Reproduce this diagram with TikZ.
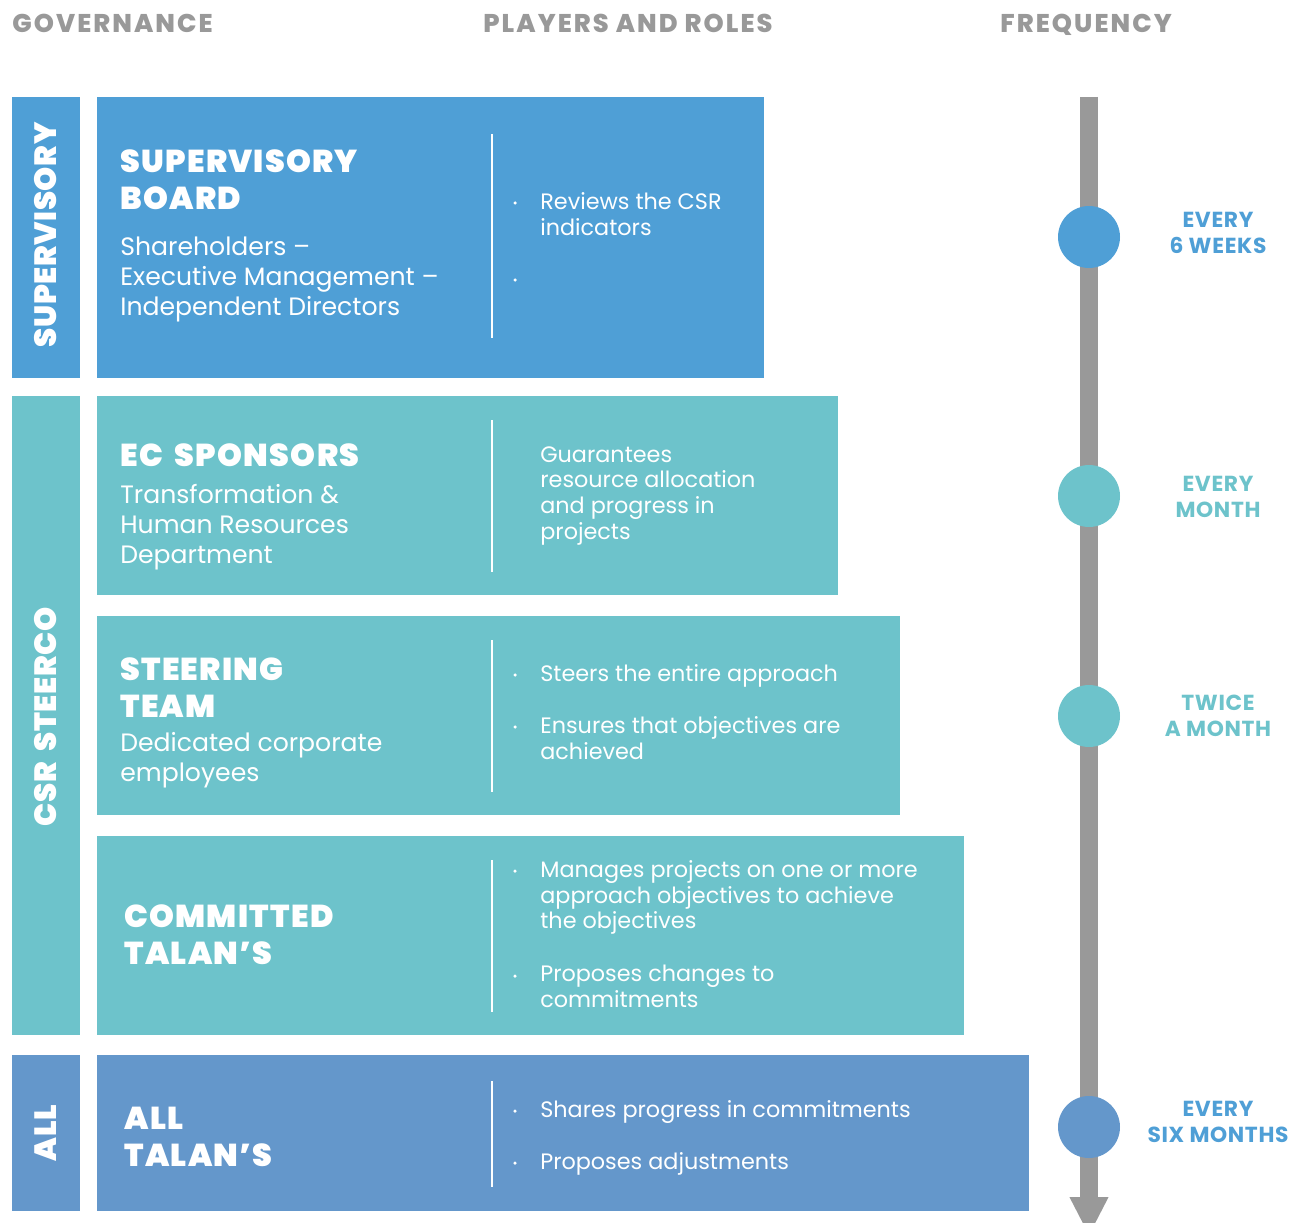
\documentclass[tikz,border=0pt]{standalone}
\usepackage{fontspec}
\setmainfont{Poppins}
\newfontfamily\heavyfont{Poppins ExtraBold}[LetterSpace=4]
\newfontfamily\blackfont{Poppins Black}[LetterSpace=4,WordSpace=1.8]
\newfontfamily\freqfont{Poppins}[LetterSpace=3]
\usepackage{xcolor}
\usepackage{tikz}
\usetikzlibrary{arrows.meta}
\definecolor{supblue}{RGB}{79,159,214}
\definecolor{steerteal}{RGB}{109,195,203}
\definecolor{allblue}{RGB}{100,151,203}
\definecolor{axisgray}{RGB}{153,153,153}

\begin{document}
\begin{tikzpicture}[x=0.02cm,y=-0.02cm]
    \tikzstyle{band}=[inner sep=0,anchor=north west,minimum width=1.36cm]
    \tikzstyle{panel}=[inner sep=0,anchor=north west,minimum height=3.98cm]
    \tikzstyle{header}=[inner sep=0,anchor=base west,text=axisgray,font=\fontsize{14.6}{17}\heavyfont\addfontfeature{LetterSpace=8}]
    \tikzstyle{bandlabel}=[inner sep=0,rotate=90,text=white,font=\fontsize{17.5}{20}\blackfont\addfontfeature{LetterSpace=2}]
    \tikzstyle{title}=[inner sep=0,anchor=north west,align=left,text=white,font=\fontsize{18}{21}\blackfont]
    \tikzstyle{members}=[inner sep=0,anchor=north west,align=left,text=white,font=\fontsize{14.3}{17}\selectfont]
    \tikzstyle{roles}=[inner sep=0,anchor=north west,align=left,text=white,font=\fontsize{12.7}{14.7}\selectfont]
    \tikzstyle{divider}=[white,line width=0.8pt]
    \tikzstyle{bullet}=[circle,fill=white,inner sep=0,minimum size=0.07cm]
    \tikzstyle{dot}=[circle,inner sep=0,minimum size=1.24cm]
    \tikzstyle{freq}=[align=center,inner sep=0,font=\fontsize{12.4}{14.5}\freqfont\bfseries]
    \useasboundingbox (0,0) rectangle (1308,1223);
    % Column headers
    \node[header] (govhead) at (12,33) {GOVERNANCE};
    \node[header] (playhead) at (483,33) {PLAYERS AND ROLES};
    \node[header] (freqhead) at (1000,33) {FREQUENCY};
    % Governance bands
    \node[band,fill=supblue,minimum height=5.62cm] (supband) at (12,97) {};
    \node[band,fill=steerteal,minimum height=12.78cm] (steerband) at (12,396) {};
    \node[band,fill=allblue,minimum height=3.12cm] (allband) at (12,1055) {};
    \node[bandlabel] (suplabel) at (46,235) {SUPERVISORY};
    \node[bandlabel] (steerlabel) at (46,717) {CSR STEERCO};
    \node[bandlabel] (alllabel) at (46,1133) {ALL};
    % Players panels
    \node[panel,fill=supblue,minimum width=13.34cm,minimum height=5.62cm] (supbox) at (97,97) {};
    \node[panel,fill=steerteal,minimum width=14.82cm] (ecbox) at (97,396) {};
    \node[panel,fill=steerteal,minimum width=16.06cm] (teambox) at (97,616) {};
    \node[panel,fill=steerteal,minimum width=17.34cm] (combox) at (97,836) {};
    \node[panel,fill=allblue,minimum width=18.64cm,minimum height=3.12cm] (allbox) at (97,1055) {};
    \foreach \ya/\yb in {134/338, 420/572, 640/792, 860/1012, 1081/1187}
        \draw[divider] (492,\ya) -- (492,\yb);
    % Players
    \node[title] (suptitle) at (120,149) {SUPERVISORY\\BOARD};
    \node[members] (supmembers) at (120,237) {Shareholders --\\Executive Management --\\Independent Directors};
    \node[title] (ectitle) at (120,443) {EC SPONSORS};
    \node[members] (ecmembers) at (120,484) {Transformation \&\\Human Resources\\Department};
    \node[title] (teamtitle) at (120,657) {STEERING\\TEAM};
    \node[members] (teammembers) at (120,732) {Dedicated corporate\\employees};
    \node[title] (comtitle) at (124,904) {COMMITTED\\TALAN’S};
    \node[title] (alltitle) at (124,1107) {ALL\\TALAN’S};
    % Roles
    \node[roles] (suprole) at (540,192) {Reviews the CSR\\indicators};
    \node[roles] (ecrole) at (540,446) {Guarantees\\resource allocation\\and progress in\\projects};
    \node[roles] (teamrolea) at (540,664) {Steers the entire approach};
    \node[roles] (teamroleb) at (540,716) {Ensures that objectives are\\achieved};
    \node[roles] (comrolea) at (540,860) {Manages projects on one or more\\approach objectives to achieve\\the objectives};
    \node[roles] (comroleb) at (540,965) {Proposes changes to\\commitments};
    \node[roles] (allrolea) at (540,1100) {Shares progress in commitments};
    \node[roles] (allroleb) at (540,1152) {Proposes adjustments};
    \foreach \yb [count=\i] in {203, 280, 675, 727, 871, 976, 1111, 1163}
        \node[bullet] (bul\i) at (515,\yb) {};
    % Frequency axis
    \coordinate (ftop) at (1089,97);
    \coordinate (fbot) at (1089,1236);
    \draw[axisgray,line width=0.36cm,-{Triangle[width=0.72cm,length=0.78cm]}] (ftop) -- (fbot);
    \foreach \yc/\col [count=\i] in {237/supblue, 496/steerteal, 716/steerteal, 1127/allblue}
        \node[dot,fill=\col] (dot\i) at (1089,\yc) {};
    \node[freq,text=supblue] (freqa) at (1218,233) {EVERY\\6 WEEKS};
    \node[freq,text=steerteal] (freqb) at (1218,497) {EVERY\\MONTH};
    \node[freq,text=steerteal] (freqc) at (1218,716) {TWICE\\A MONTH};
    \node[freq,text=supblue] (freqd) at (1218,1122) {EVERY\\SIX MONTHS};
\end{tikzpicture}
\end{document}
